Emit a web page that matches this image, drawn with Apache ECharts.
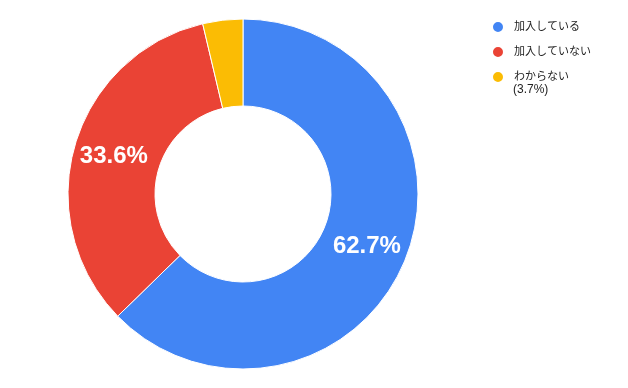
<!DOCTYPE html>
<html><head><meta charset="utf-8">
<script src="https://cdn.jsdelivr.net/npm/echarts@6/dist/echarts.min.js"></script>
<style>html,body{margin:0;padding:0;background:#fff}#c{width:628px;height:388px}</style>
</head><body><div id="c"></div>
<script>
const categories = ['加入している', '加入していない', 'わからない'];
const values = [62.7, 33.6, 3.7];
const colors = ['#4285f4', '#ea4335', '#fbbc04'];
const legendNote = '(3.7%)';

const chart = echarts.init(document.getElementById('c'));
chart.setOption({
  animation: false,
  color: colors,
  legend: {
    orient: 'vertical',
    left: 486,
    top: 15,
    itemWidth: 12,
    itemHeight: 12,
    itemGap: 11,
    icon: 'circle',
    textStyle: { fontSize: 11, color: '#222', fontFamily: 'Arial, Liberation Sans, Noto Sans CJK JP', lineHeight: 14, padding: [0, 0, 0, 5] },
    data: categories
  },
  graphic: [{
    type: 'text',
    left: 513,
    top: 84,
    style: { text: legendNote, fontSize: 12, fill: '#222', fontFamily: 'Arial, Liberation Sans, Noto Sans CJK JP' }
  }],
  series: [{
    type: 'pie',
    center: [243, 194],
    radius: [88, 175],
    startAngle: 90,
    clockwise: true,
    avoidLabelOverlap: false,
    itemStyle: { borderColor: '#fff', borderWidth: 1 },
    label: {
      show: true,
      position: 'inside',
      color: '#fff',
      fontSize: 24,
      fontWeight: 'bold',
      fontFamily: 'Arial, Liberation Sans, sans-serif',
      formatter: function (p) { return p.value < 5 ? '' : p.value.toFixed(1) + '%'; }
    },
    labelLine: { show: false },
    data: categories.map((c, i) => ({ name: c, value: values[i] }))
  }]
});
</script></body></html>
